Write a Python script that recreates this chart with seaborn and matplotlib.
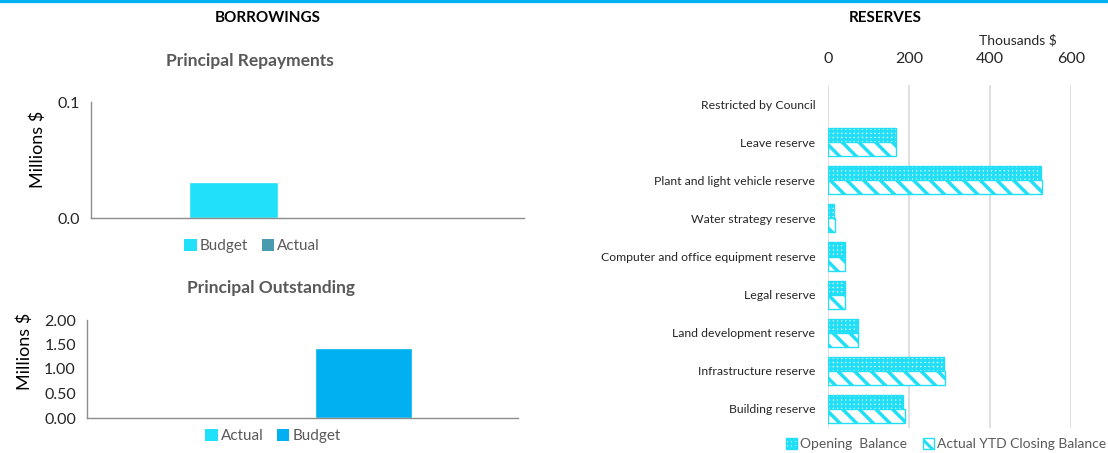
import matplotlib
matplotlib.use('Agg')
import matplotlib.pyplot as plt
from matplotlib.patches import Patch
from matplotlib.lines import Line2D
import seaborn as sns
import pandas as pd

# ---------------- data ----------------
repay_series = ['Budget', 'Actual']
repay_values = [0.031, 0.0]

outstanding_series = ['Actual', 'Budget']
outstanding_values = [0.0, 1.43]

reserve_categories = ['Restricted by Council', 'Leave reserve', 'Plant and light vehicle reserve',
                      'Water strategy reserve', 'Computer and office equipment reserve',
                      'Legal reserve', 'Land development reserve', 'Infrastructure reserve',
                      'Building reserve']
opening_balance = [0, 168, 526, 15, 42, 42, 73, 286, 186]
closing_balance = [0, 168, 528, 17, 42, 42, 73, 288, 189]
reserve_series = ['Opening  Balance', 'Actual YTD Closing Balance']

# ---------------- style ----------------
sns.set_style('white')
plt.rcParams['font.family'] = ['Lato', 'DejaVu Sans']
plt.rcParams['hatch.linewidth'] = 2.2

LIGHT = '#21E1FA'
TEAL = '#4A9BB0'
BLUE = '#00B0F0'
RES = '#22DFF7'
GRAY_T = '#595959'
AXC = '#8C8C8C'

HATCHES = ['++++', '\\\\']
HATCH_LW = [2.0, 2.5]

W, H = 1108, 453
fig = plt.figure(figsize=(W / 100, H / 100), dpi=100)


def fx(px):
    return px / W


def fy(py):
    return 1 - py / H


def apply_hatch(patch, hatch, hlw):
    patch.set_facecolor('white')
    patch.set_edgecolor(RES)
    patch.set_linewidth(1.0)
    patch.set_hatch(hatch)
    if hasattr(patch, 'set_hatch_linewidth'):
        patch.set_hatch_linewidth(hlw)


fig.add_artist(Line2D([0, 1], [fy(1.2), fy(1.2)], color=BLUE, lw=2.4))
fig.text(fx(268), fy(18.5), 'BORROWINGS', ha='center', va='center', fontsize=11,
         fontweight='bold', color='black')
fig.text(fx(885), fy(18.5), 'RESERVES', ha='center', va='center', fontsize=11,
         fontweight='bold', color='black')


def style_column_axes(ax, xlim):
    ax.set_xlim(*xlim)
    for s in ['top', 'right']:
        ax.spines[s].set_visible(False)
    for s in ['left', 'bottom']:
        ax.spines[s].set_color(AXC)
        ax.spines[s].set_linewidth(1.0)
    ax.set_xticks(list(xlim))
    ax.set_xticklabels(['', ''])
    ax.tick_params(axis='x', length=5, color=AXC, direction='out', width=1)
    ax.tick_params(axis='y', length=5, color=AXC, direction='out', width=1,
                   labelsize=11.5, labelcolor='#262626', pad=3)
    ax.set_xlabel('')


# ---------------- Principal Repayments ----------------
ax1 = fig.add_axes([fx(91), fy(218), fx(524 - 91), (218 - 102) / H])
df1 = pd.DataFrame({'grp': ['x'] * 2, 'series': repay_series, 'value': repay_values})
sns.barplot(data=df1, x='grp', y='value', hue='series', hue_order=repay_series,
            palette=[LIGHT, TEAL], width=0.8, errorbar=None, legend=False, ax=ax1,
            saturation=1)
ax1.set_ylim(0, 0.1)
ax1.set_yticks([0, 0.1])
ax1.set_yticklabels(['0.0', '0.1'])
style_column_axes(ax1, (-0.84, 1.106))
ax1.set_ylabel('Millions $', fontsize=13, color='black')
ax1.yaxis.set_label_coords((46 - 91) / 433, 0.59)
fig.text(fx(250), fy(61), 'Principal Repayments', ha='center', va='center',
         fontsize=12.5, fontweight='bold', color=GRAY_T)
h1 = [Patch(facecolor=LIGHT, edgecolor='none'), Patch(facecolor=TEAL, edgecolor='none')]
fig.legend(h1, repay_series, loc='center', bbox_to_anchor=(fx(252), fy(246)), ncol=2,
           frameon=False, fontsize=11, labelcolor=GRAY_T, handlelength=0.8,
           handleheight=0.8, handletextpad=0.2, columnspacing=0.9)

# ---------------- Principal Outstanding ----------------
ax2 = fig.add_axes([fx(87), fy(418), fx(518 - 87), (418 - 320) / H])
df2 = pd.DataFrame({'grp': ['x'] * 2, 'series': outstanding_series, 'value': outstanding_values})
sns.barplot(data=df2, x='grp', y='value', hue='series', hue_order=outstanding_series,
            palette=[LIGHT, BLUE], width=0.8, errorbar=None, legend=False, ax=ax2,
            saturation=1)
ax2.set_ylim(0, 2)
ax2.set_yticks([0, 0.5, 1.0, 1.5, 2.0])
ax2.set_yticklabels(['0.00', '0.50', '1.00', '1.50', '2.00'])
style_column_axes(ax2, (-0.94, 0.837))
ax2.set_ylabel('Millions $', fontsize=13, color='black')
ax2.yaxis.set_label_coords((33 - 87) / 431, 0.68)
fig.text(fx(271), fy(288), 'Principal Outstanding', ha='center', va='center',
         fontsize=12.5, fontweight='bold', color=GRAY_T)
h2 = [Patch(facecolor=LIGHT, edgecolor='none'), Patch(facecolor=BLUE, edgecolor='none')]
fig.legend(h2, outstanding_series, loc='center', bbox_to_anchor=(fx(273), fy(436)), ncol=2,
           frameon=False, fontsize=11, labelcolor=GRAY_T, handlelength=0.8,
           handleheight=0.8, handletextpad=0.2, columnspacing=0.9)

# ---------------- Reserves ----------------
ax3 = fig.add_axes([fx(828), fy(428), fx(1071 - 828), (428 - 85) / H])
df3 = pd.DataFrame({
    'category': reserve_categories * 2,
    'series': [reserve_series[0]] * len(reserve_categories) + [reserve_series[1]] * len(reserve_categories),
    'value': opening_balance + closing_balance,
})
sns.barplot(data=df3, y='category', x='value', hue='series', hue_order=reserve_series,
            orient='h', palette=[RES, RES], width=0.74, errorbar=None, legend=False,
            ax=ax3, saturation=1)
for cont, hatch, hlw in zip(ax3.containers, HATCHES, HATCH_LW):
    for bar in cont:
        apply_hatch(bar, hatch, hlw)
        if bar.get_width() == 0:
            bar.set_visible(False)
ax3.set_xlim(0, 600)
ax3.set_xticks([0, 200, 400, 600])
ax3.xaxis.tick_top()
ax3.tick_params(axis='x', length=0, labelsize=11.5, labelcolor='#262626', pad=14)
ax3.tick_params(axis='y', length=0, labelsize=8.8, labelcolor='#262626', pad=9)
ax3.grid(axis='x', color='#D9D9D9', lw=1.2)
ax3.set_axisbelow(True)
for s in ax3.spines.values():
    s.set_visible(False)
ax3.set_xlabel('')
ax3.set_ylabel('')
fig.text(fx(1018), fy(40), 'Thousands $', ha='center', va='center', fontsize=10,
         color='#262626')
h3 = []
for hatch, hlw in zip(HATCHES, HATCH_LW):
    p = Patch()
    apply_hatch(p, hatch, hlw)
    h3.append(p)
fig.legend(h3, reserve_series, loc='center', bbox_to_anchor=(fx(946), fy(444)), ncol=2,
           frameon=False, fontsize=10, labelcolor=GRAY_T, handlelength=0.8,
           handleheight=0.8, handletextpad=0.2, columnspacing=1.2)

fig.savefig('out.png', dpi=100)
